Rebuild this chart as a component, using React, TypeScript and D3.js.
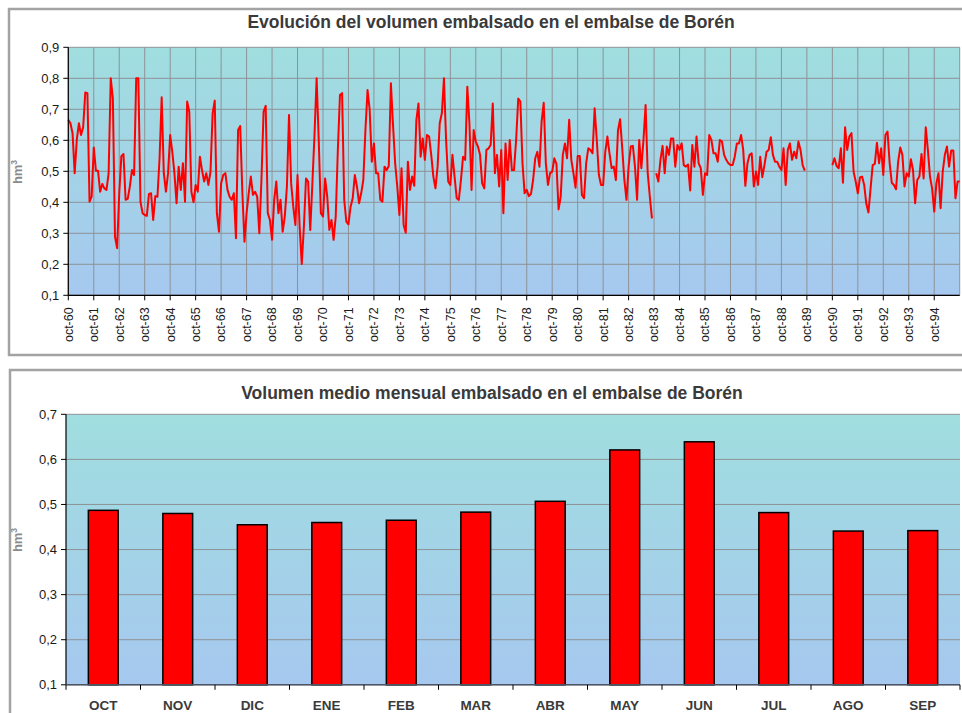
import React from "react";
import * as d3 from "d3";

// Monthly stored volume (hm³), hydrological years starting in October.
// null marks months without record.
const volume1960s: (number | null)[] = [
  0.666, 0.655, 0.623, 0.494, 0.601, 0.655, 0.617, 0.642, 0.754, 0.752, 0.402, 0.418,
  0.577, 0.502, 0.502, 0.434, 0.459, 0.445, 0.44, 0.494, 0.8, 0.735, 0.289, 0.252,
  0.429, 0.549, 0.556, 0.408, 0.411, 0.451, 0.504, 0.488, 0.8, 0.8, 0.402, 0.365,
  0.359, 0.356, 0.427, 0.429, 0.343, 0.42, 0.418, 0.542, 0.739, 0.494, 0.434, 0.494,
  0.617, 0.563, 0.494, 0.397, 0.515, 0.44, 0.526, 0.402, 0.725, 0.692, 0.434, 0.4,
  0.456, 0.434, 0.547, 0.504, 0.467, 0.494, 0.456, 0.499, 0.687, 0.728, 0.365, 0.305,
  0.461, 0.488, 0.494, 0.44, 0.418, 0.408, 0.429, 0.284, 0.633, 0.646, 0.434, 0.273,
  0.365, 0.429, 0.483, 0.424, 0.434, 0.418, 0.3, 0.472, 0.692, 0.711, 0.365, 0.343,
  0.279, 0.408, 0.467, 0.365, 0.408, 0.305, 0.354, 0.451, 0.682, 0.461, 0.386, 0.327,
  0.488, 0.321, 0.201, 0.321, 0.477, 0.467, 0.311, 0.461, 0.617, 0.8, 0.601, 0.365,
];

const volume1970s: (number | null)[] = [
  0.354, 0.477, 0.418, 0.311, 0.343, 0.279, 0.354, 0.569, 0.746, 0.752, 0.408, 0.338,
  0.329, 0.386, 0.413, 0.488, 0.451, 0.397, 0.429, 0.472, 0.633, 0.762, 0.698, 0.531,
  0.59, 0.494, 0.494, 0.408, 0.402, 0.515, 0.504, 0.517, 0.784, 0.649, 0.526, 0.451,
  0.359, 0.51, 0.327, 0.302, 0.531, 0.44, 0.483, 0.453, 0.666, 0.719, 0.547, 0.606,
  0.537, 0.617, 0.612, 0.553, 0.483, 0.445, 0.515, 0.655, 0.687, 0.8, 0.601, 0.467,
  0.456, 0.553, 0.483, 0.413, 0.408, 0.472, 0.547, 0.537, 0.773, 0.655, 0.44, 0.633,
  0.596, 0.58, 0.553, 0.461, 0.445, 0.569, 0.574, 0.585, 0.719, 0.494, 0.553, 0.451,
  0.569, 0.365, 0.59, 0.472, 0.601, 0.504, 0.504, 0.601, 0.735, 0.725, 0.526, 0.429,
  0.44, 0.42, 0.427, 0.472, 0.542, 0.563, 0.515, 0.66, 0.721, 0.526, 0.456, 0.494,
  0.499, 0.542, 0.524, 0.377, 0.418, 0.553, 0.59, 0.542, 0.666, 0.537, 0.494, 0.447,
];

const volume1980s: (number | null)[] = [
  0.549, 0.549, 0.424, 0.413, 0.526, 0.574, 0.569, 0.558, 0.703, 0.601, 0.488, 0.456,
  0.456, 0.563, 0.612, 0.558, 0.51, 0.515, 0.472, 0.633, 0.668, 0.574, 0.472, 0.408,
  0.515, 0.58, 0.582, 0.515, 0.408, 0.601, 0.51, 0.601, 0.714, 0.494, 0.418, 0.348,
  null, 0.494, 0.467, 0.537, 0.582, 0.494, 0.58, 0.553, 0.606, 0.606, 0.515, 0.585,
  0.569, 0.59, 0.52, 0.515, 0.522, 0.438, 0.585, 0.515, 0.612, 0.526, 0.51, 0.424,
  0.494, 0.488, 0.617, 0.601, 0.558, 0.558, 0.531, 0.601, 0.596, 0.553, 0.537, 0.526,
  0.52, 0.52, 0.547, 0.59, 0.59, 0.617, 0.569, 0.453, 0.526, 0.553, 0.558, 0.451,
  0.499, 0.456, 0.547, 0.481, 0.52, 0.563, 0.569, 0.61, 0.553, 0.531, 0.531, 0.515,
  0.504, 0.574, 0.456, 0.569, 0.59, 0.537, 0.563, 0.542, 0.596, 0.569, 0.52, 0.502,
  null, null, null, null, null, null, null, null, null, null, null, null,
];

const volume1990s: (number | null)[] = [
  0.52, 0.542, 0.517, 0.51, 0.574, 0.463, 0.642, 0.569, 0.612, 0.623, 0.499, 0.467,
  0.429, 0.48, 0.483, 0.456, 0.395, 0.367, 0.444, 0.52, 0.524, 0.592, 0.526, 0.574,
  0.488, 0.617, 0.628, 0.526, 0.463, 0.456, 0.442, 0.531, 0.577, 0.553, 0.451, 0.494,
  0.483, 0.539, 0.504, 0.397, 0.472, 0.483, 0.556, 0.477, 0.642, 0.569, 0.483, 0.445,
  0.37, 0.461, 0.494, 0.381, 0.499, 0.553, 0.58, 0.515, 0.567, 0.567, 0.413, 0.467,
  0.467,
];

const volumeSeries = [...volume1960s, ...volume1970s, ...volume1980s, ...volume1990s];

const yearTickLabels = [
  "oct-60", "oct-61", "oct-62", "oct-63", "oct-64", "oct-65", "oct-66", "oct-67",
  "oct-68", "oct-69", "oct-70", "oct-71", "oct-72", "oct-73", "oct-74", "oct-75",
  "oct-76", "oct-77", "oct-78", "oct-79", "oct-80", "oct-81", "oct-82", "oct-83",
  "oct-84", "oct-85", "oct-86", "oct-87", "oct-88", "oct-89", "oct-90", "oct-91",
  "oct-92", "oct-93", "oct-94",
];

const volumeTicks = [0.1, 0.2, 0.3, 0.4, 0.5, 0.6, 0.7, 0.8, 0.9];

// Mean stored volume for each month of the hydrological year (hm³)
const monthLabels = ["OCT", "NOV", "DIC", "ENE", "FEB", "MAR", "ABR", "MAY", "JUN", "JUL", "AGO", "SEP"];
const monthlyMean = [0.487, 0.48, 0.455, 0.46, 0.465, 0.483, 0.507, 0.621, 0.639, 0.482, 0.441, 0.442];
const meanTicks = [0.1, 0.2, 0.3, 0.4, 0.5, 0.6, 0.7];

const FONT = "'Liberation Sans', Arial, Helvetica, sans-serif";
const GRID = "#8e9296";
const FRAME = "#a3a3a3";
const TITLE_COLOR = "#3a3a3a";
const fmt = (v: number) => v.toFixed(1).replace(".", ",");

function AxisTitle({ x, y }: { x: number; y: number }) {
  return (
    <text
      transform={`translate(${x},${y}) rotate(-90)`}
      textAnchor="middle"
      fontFamily={FONT}
      fontSize={13}
      fontWeight="bold"
      fill="#8a8a8a"
    >
      hm
      <tspan fontSize={8.5} dy={-5}>3</tspan>
    </text>
  );
}

function SeriesChart() {
  const box = { left: 68.3, right: 959.7, top: 47.3, bottom: 295.3 };
  const x = d3.scaleLinear().domain([0, 420]).range([box.left, box.right]);
  const y = d3.scaleLinear().domain([0.1, 0.9]).range([box.bottom, box.top]);
  const line = d3
    .line<number | null>()
    .defined((d) => d != null)
    .x((_, i) => x(i))
    .y((d) => y(d as number));
  const tickIdx = yearTickLabels.map((_, k) => k * 12);

  return (
    <g>
      <rect x={9} y={9} width={970} height={346} fill="#fff" stroke={FRAME} strokeWidth={2.5} />
      <text x={491} y={28} textAnchor="middle" fontFamily={FONT} fontSize={17.5} fontWeight="bold" fill={TITLE_COLOR}>
        Evolución del volumen embalsado en el embalse de Borén
      </text>
      <rect
        x={box.left}
        y={box.top}
        width={box.right - box.left}
        height={box.bottom - box.top}
        fill="url(#plotFill)"
      />
      {volumeTicks.map((t) => (
        <line key={t} x1={box.left} x2={box.right} y1={y(t)} y2={y(t)} stroke={GRID} strokeWidth={1} />
      ))}
      {[...tickIdx, 420].map((i) => (
        <line key={i} x1={x(i)} x2={x(i)} y1={box.top} y2={box.bottom} stroke={GRID} strokeWidth={1} />
      ))}
      <path d={line(volumeSeries) ?? ""} fill="none" stroke="#ff0000" strokeWidth={2} strokeLinejoin="round" />
      <line x1={box.left} x2={box.left} y1={box.top} y2={box.bottom} stroke="#000" strokeWidth={1.2} />
      <line x1={box.left} x2={box.right} y1={box.bottom} y2={box.bottom} stroke="#000" strokeWidth={1.2} />
      {volumeTicks.map((t) => (
        <g key={t}>
          <line x1={box.left - 5} x2={box.left} y1={y(t)} y2={y(t)} stroke="#000" />
          <text x={box.left - 9} y={y(t)} dy="0.35em" textAnchor="end" fontFamily={FONT} fontSize={13} fill="#1a1a1a">
            {fmt(t)}
          </text>
        </g>
      ))}
      {tickIdx.map((i, k) => (
        <g key={i}>
          <line x1={x(i)} x2={x(i)} y1={box.bottom} y2={box.bottom + 5} stroke="#000" />
          <text
            transform={`translate(${x(i)},${box.bottom + 12}) rotate(-90)`}
            textAnchor="end"
            dy="0.35em"
            fontFamily={FONT}
            fontSize={12.5}
            fill="#1a1a1a"
          >
            {yearTickLabels[k]}
          </text>
        </g>
      ))}
      <AxisTitle x={22} y={172} />
    </g>
  );
}

function MeanChart() {
  const box = { left: 66, right: 960, top: 414.3, bottom: 684.8 };
  const xb = d3.scaleBand().domain(monthLabels).range([box.left, box.right]);
  const y = d3.scaleLinear().domain([0.1, 0.7]).range([box.bottom, box.top]);
  const barW = xb.bandwidth() * 0.4;

  return (
    <g>
      <rect x={10} y={370} width={970} height={400} fill="#fff" stroke={FRAME} strokeWidth={2.5} />
      <text x={492} y={399} textAnchor="middle" fontFamily={FONT} fontSize={17.5} fontWeight="bold" fill={TITLE_COLOR}>
        Volumen medio mensual embalsado en el embalse de Borén
      </text>
      <rect
        x={box.left}
        y={box.top}
        width={box.right - box.left}
        height={box.bottom - box.top}
        fill="url(#plotFill)"
      />
      {meanTicks.map((t) => (
        <line key={t} x1={box.left} x2={box.right} y1={y(t)} y2={y(t)} stroke={GRID} strokeWidth={1} />
      ))}
      {monthLabels.map((m, i) => (
        <rect
          key={m}
          x={(xb(m) as number) + xb.bandwidth() / 2 - barW / 2}
          y={y(monthlyMean[i])}
          width={barW}
          height={y(0.1) - y(monthlyMean[i])}
          fill="#ff0000"
          stroke="#000"
          strokeWidth={1.5}
        />
      ))}
      <line x1={box.left} x2={box.left} y1={box.top} y2={box.bottom} stroke="#000" strokeWidth={1.2} />
      <line x1={box.left} x2={box.right} y1={box.bottom} y2={box.bottom} stroke="#4d5563" strokeWidth={1.5} />
      {meanTicks.map((t) => (
        <g key={t}>
          <line x1={box.left - 5} x2={box.left} y1={y(t)} y2={y(t)} stroke="#000" />
          <text x={box.left - 9} y={y(t)} dy="0.35em" textAnchor="end" fontFamily={FONT} fontSize={13} fill="#1a1a1a">
            {fmt(t)}
          </text>
        </g>
      ))}
      {monthLabels.map((m) => (
        <g key={m}>
          <line
            x1={(xb(m) as number) + xb.bandwidth()}
            x2={(xb(m) as number) + xb.bandwidth()}
            y1={box.bottom}
            y2={box.bottom + 5}
            stroke="#000"
          />
          <text
            x={(xb(m) as number) + xb.bandwidth() / 2}
            y={710}
            textAnchor="middle"
            fontFamily={FONT}
            fontSize={13.5}
            fontWeight="bold"
            fill={TITLE_COLOR}
          >
            {m}
          </text>
        </g>
      ))}
      <line x1={box.left} x2={box.left} y1={box.bottom} y2={box.bottom + 5} stroke="#000" />
      <AxisTitle x={22} y={540} />
    </g>
  );
}

export default function App() {
  return (
    <svg
      width={962}
      height={713}
      viewBox="0 0 962 713"
      style={{ position: "absolute", left: 0, top: 0, background: "#fff" }}
    >
      <defs>
        <linearGradient id="plotFill" x1="0" y1="0" x2="0" y2="1">
          <stop offset="0" stopColor="#a0dedf" />
          <stop offset="1" stopColor="#a6c8ef" />
        </linearGradient>
      </defs>
      <SeriesChart />
      <MeanChart />
    </svg>
  );
}
